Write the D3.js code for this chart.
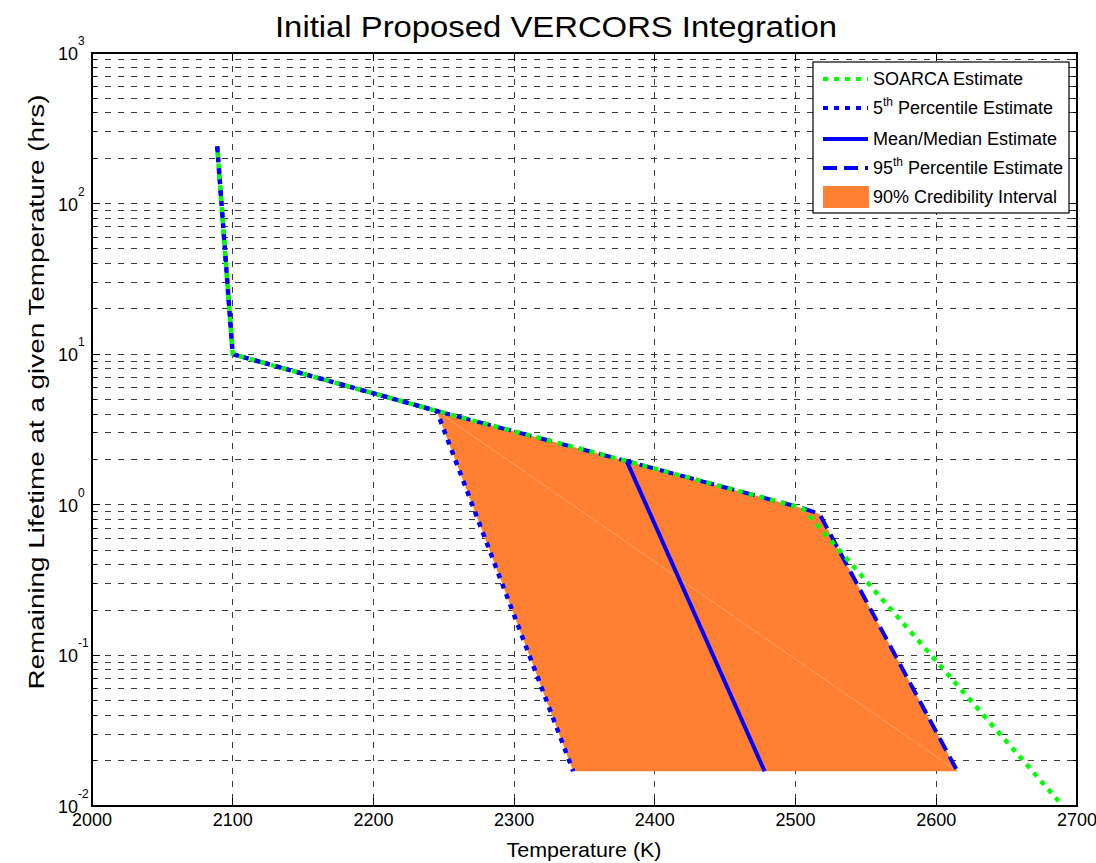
<!doctype html>
<html>
<head>
<meta charset="utf-8">
<title>Initial Proposed VERCORS Integration</title>
<script src="https://d3js.org/d3.v7.min.js"></script>
<style>
    body { margin: 0; background: #fff; }
    text { font-family: "Liberation Sans", Arial, sans-serif; fill: #000; }
</style>
</head>
<body>
<svg id="chart" width="1096" height="863"></svg>
<script>
// data (temperature in K, lifetime in hrs)
var soarcaT = [2089, 2100, 2245, 2380, 2505, 2690];
var soarcaH = [240, 10, 4.2, 1.95, 0.95, 0.01];

var p5T = [2089, 2100, 2245, 2342];
var p5H = [240, 10, 4.2, 0.017];

var meanT = [2380, 2478];
var meanH = [1.95, 0.017];

var p95T = [2089, 2100, 2245, 2380, 2505, 2517, 2615];
var p95H = [240, 10, 4.2, 1.95, 0.95, 0.87, 0.017];

// 90% credibility interval polygon
var bandT = [2245, 2380, 2505, 2517, 2615, 2342];
var bandH = [4.2, 1.95, 0.95, 0.87, 0.017, 0.017];

var xTicks = [2000, 2100, 2200, 2300, 2400, 2500, 2600, 2700];
var yExp = [-2, -1, 0, 1, 2, 3];

var legendLabels = [
    ["SOARCA Estimate"],
    ["5", "th", " Percentile Estimate"],
    ["Mean/Median Estimate"],
    ["95", "th", " Percentile Estimate"],
    ["90% Credibility Interval"]
];

var svg = d3.select("#chart");
var pLeft = 92, pRight = 1077, pTop = 53, pBottom = 806;

var x = d3.scaleLinear().domain([2000, 2700]).range([pLeft, pRight]);
var y = d3.scaleLog().domain([0.01, 1000]).range([pBottom, pTop]);

function pts(ts, hs) { return ts.map(function (t, i) { return [t, hs[i]]; }); }
var line = d3.line().x(function (d) { return x(d[0]); }).y(function (d) { return y(d[1]); });

// grid
var grid = svg.append("g").attr("stroke", "#3a3a3a").attr("stroke-width", 1)
    .attr("stroke-dasharray", "6,7").attr("shape-rendering", "crispEdges");
xTicks.slice(1, -1).forEach(function (t) {
    grid.append("line").attr("x1", x(t)).attr("x2", x(t)).attr("y1", pTop).attr("y2", pBottom);
});
var minors = [];
yExp.slice(0, -1).forEach(function (e) {
    for (var m = 1; m < 10; m++) minors.push(m * Math.pow(10, e));
});
minors.forEach(function (v) {
    if (v === 0.01) return;
    grid.append("line").attr("x1", pLeft).attr("x2", pRight).attr("y1", y(v)).attr("y2", y(v));
});

// band
svg.append("path").attr("d", line(pts(bandT, bandH)) + "Z").attr("fill", "#ff8033");
svg.append("line")
    .attr("x1", x(bandT[0])).attr("y1", y(bandH[0]))
    .attr("x2", x(bandT[4])).attr("y2", y(bandH[4]))
    .attr("stroke", "#ffb080").attr("stroke-width", 0.7);

// lines
svg.append("path").attr("d", line(pts(p95T, p95H))).attr("fill", "none")
    .attr("stroke", "#0000ff").attr("stroke-width", 4).attr("stroke-dasharray", "14,7");
svg.append("path").attr("d", line(pts(p5T, p5H))).attr("fill", "none")
    .attr("stroke", "#0000ff").attr("stroke-width", 4.5).attr("stroke-dasharray", "5,6");
svg.append("path").attr("d", line(pts(meanT, meanH))).attr("fill", "none")
    .attr("stroke", "#0000ff").attr("stroke-width", 4);
svg.append("path").attr("d", line(pts(soarcaT, soarcaH))).attr("fill", "none")
    .attr("stroke", "#00ff00").attr("stroke-width", 4.5).attr("stroke-dasharray", "5,6")
    .attr("stroke-dashoffset", 5);

// axes box and ticks
var ax = svg.append("g").attr("stroke", "#000").attr("shape-rendering", "crispEdges");
ax.append("rect").attr("x", pLeft).attr("y", pTop).attr("width", pRight - pLeft).attr("height", pBottom - pTop)
    .attr("fill", "none").attr("stroke-width", 1.5);
xTicks.forEach(function (t) {
    ax.append("line").attr("x1", x(t)).attr("x2", x(t)).attr("y1", pBottom).attr("y2", pBottom - 8);
    ax.append("line").attr("x1", x(t)).attr("x2", x(t)).attr("y1", pTop).attr("y2", pTop + 8);
});
minors.concat([1000]).forEach(function (v) {
    var len = Math.abs(Math.log10(v) - Math.round(Math.log10(v))) < 1e-9 ? 8 : 4;
    ax.append("line").attr("x1", pLeft).attr("x2", pLeft + len).attr("y1", y(v)).attr("y2", y(v));
    ax.append("line").attr("x1", pRight).attr("x2", pRight - len).attr("y1", y(v)).attr("y2", y(v));
});

// tick labels
svg.append("g").selectAll("text").data(xTicks).join("text")
    .attr("x", function (d) { return x(d); }).attr("y", 826)
    .attr("text-anchor", "middle").attr("font-size", 18).text(function (d) { return d; });

svg.append("g").selectAll("text").data(yExp).join("text")
    .attr("x", 78).attr("y", function (d) { return y(Math.pow(10, d)) + 7; })
    .attr("text-anchor", "end").attr("font-size", 18).text("10");
svg.append("g").selectAll("text").data(yExp).join("text")
    .attr("x", 78).attr("y", function (d) { return y(Math.pow(10, d)) - 8; })
    .attr("font-size", 12).text(function (d) { return d; });

// title and axis labels
svg.append("text").attr("x", 556).attr("y", 37).attr("text-anchor", "middle")
    .attr("font-size", 30).attr("textLength", 562).attr("lengthAdjust", "spacingAndGlyphs")
    .text("Initial Proposed VERCORS Integration");
svg.append("text").attr("x", 584).attr("y", 857).attr("text-anchor", "middle")
    .attr("font-size", 21).attr("textLength", 155).attr("lengthAdjust", "spacingAndGlyphs")
    .text("Temperature (K)");
svg.append("text").attr("transform", "translate(44,392) rotate(-90)").attr("text-anchor", "middle")
    .attr("font-size", 22).attr("textLength", 595).attr("lengthAdjust", "spacingAndGlyphs")
    .text("Remaining Lifetime at a given Temperature (hrs)");

// legend
var lg = svg.append("g");
lg.append("rect").attr("x", 813).attr("y", 62).attr("width", 256).attr("height", 151)
    .attr("fill", "#fff").attr("stroke", "#000").attr("stroke-width", 1.2);
var rowY = [79, 108, 139, 168, 197];
var styles = [
    { c: "#00ff00", d: "5,6" },
    { c: "#0000ff", d: "5,6" },
    { c: "#0000ff", d: null },
    { c: "#0000ff", d: "14,7" },
    null
];
legendLabels.forEach(function (lab, i) {
    var yy = rowY[i];
    if (styles[i]) {
        var l = lg.append("line").attr("x1", 823).attr("x2", 868).attr("y1", yy).attr("y2", yy)
            .attr("stroke", styles[i].c).attr("stroke-width", 4);
        if (styles[i].d) l.attr("stroke-dasharray", styles[i].d);
    } else {
        lg.append("rect").attr("x", 823).attr("y", yy - 11).attr("width", 46).attr("height", 22)
            .attr("fill", "#ff8033");
    }
    var t = lg.append("text").attr("x", 873).attr("y", yy + 6).attr("font-size", 18);
    t.append("tspan").text(lab[0]);
    if (lab.length > 2) {
        t.append("tspan").attr("font-size", 12).attr("dy", -8).text(lab[1]);
        t.append("tspan").attr("dy", 8).text(lab[2]);
    }
});
</script>
</body>
</html>
